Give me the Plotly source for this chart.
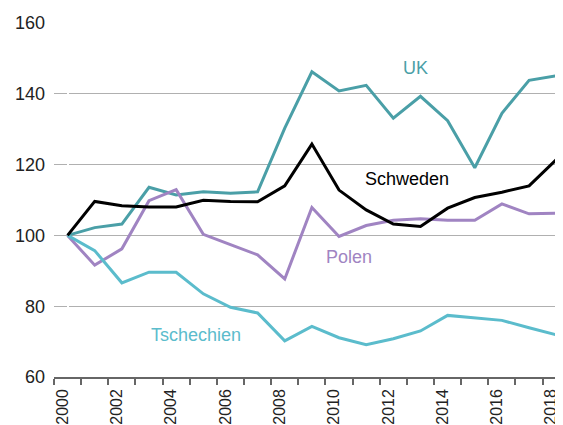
import plotly.graph_objects as go

# Index 2000 = 100
years = list(range(2000, 2019))

uk = [100, 102.2, 103.2, 113.6, 111.4, 112.3, 111.9, 112.3, 130.3, 146.2,
      140.8, 142.4, 133.1, 139.3, 132.4, 119.1, 134.5, 143.8, 145.1]
schweden = [100, 109.6, 108.4, 108.0, 108.0, 109.9, 109.6, 109.5, 114.0, 125.8,
            112.8, 107.2, 103.2, 102.5, 107.7, 110.7, 112.2, 114.0, 121.4]
polen = [100, 91.6, 96.2, 109.8, 112.9, 100.3, 97.4, 94.5, 87.7, 107.9,
         99.7, 102.8, 104.3, 104.7, 104.3, 104.3, 108.9, 106.1, 106.3]
tschechien = [100, 95.7, 86.6, 89.6, 89.6, 83.5, 79.7, 78.1, 70.2, 74.3,
              71.1, 69.1, 70.8, 73.0, 77.4, 76.7, 76.0, 73.9, 71.9]

tick_years = years[::2]

font = "Liberation Sans, Arial"

# name, values, colour, label position (x index, y value)
series = [
    ("UK", uk, "#4a9fa7", 12.83, 147.3),
    ("Polen", polen, "#a084c2", 10.37, 93.8),
    ("Tschechien", tschechien, "#5bbccc", 4.72, 71.9),
    ("Schweden", schweden, "#000000", 12.52, 115.9),
]

xs = list(range(len(years)))

fig = go.Figure()
for name, vals, color, lx, ly in series:
    fig.add_trace(go.Scatter(x=xs, y=vals, mode="lines", name=name,
                             line=dict(color=color, width=3)))
    fig.add_annotation(x=lx, y=ly, text=name, showarrow=False,
                       font=dict(color=color, size=18, family=font))

# page has an 8px body margin, so the figure is a bit smaller and shifted
fig.update_layout(
    width=555, height=417,
    margin=dict(l=46, r=0, t=15, b=48),
    plot_bgcolor="white", paper_bgcolor="white",
    showlegend=False,
    font=dict(family=font, size=18, color="#222222"),
)
fig.update_xaxes(
    range=[-0.5, 18.25],
    automargin=False,
    tickvals=[years.index(y) for y in tick_years],
    ticktext=[str(y) for y in tick_years],
    tickangle=-90,
    ticks="",
    ticklabelstandoff=4,
    ticklabelshift=-5,
    ticklabeloverflow="allow",
    showgrid=False,
    showline=True, linecolor="#666666", linewidth=1.5,
    minor=dict(tick0=-0.5, dtick=1, ticks="outside", ticklen=6,
               tickcolor="#666666", tickwidth=1.5, showgrid=False),
    tickfont=dict(size=16),
)
fig.update_yaxes(
    range=[60, 160],
    automargin=False,
    tickvals=[60, 80, 100, 120, 140, 160],
    showgrid=True, gridcolor="#b0b0b0", gridwidth=1,
    zeroline=False, showline=False,
    ticks="", ticklabelstandoff=8,
    tickfont=dict(size=18),
)

fig.write_html("out.html")
